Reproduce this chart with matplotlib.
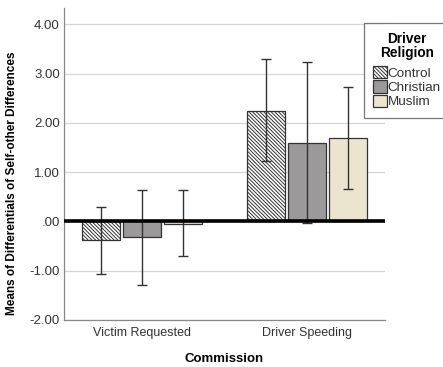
import matplotlib
matplotlib.use("Agg")
import matplotlib.pyplot as plt
import numpy as np

plt.rcParams['font.family'] = ['Liberation Sans', 'DejaVu Sans']
plt.rcParams['hatch.linewidth'] = 0.7
plt.rcParams['hatch.color'] = '#333333'

# data
categories = ["Victim Requested", "Driver Speeding"]
groups = ["Control", "Christian", "Muslim"]
means_control = [-0.38, 2.25]
means_christian = [-0.32, 1.59]
means_muslim = [-0.05, 1.70]
upper_control = [0.29, 3.29]
upper_christian = [0.63, 3.24]
upper_muslim = [0.63, 2.73]
lower_control = [-1.07, 1.22]
lower_christian = [-1.28, -0.03]
lower_muslim = [-0.71, 0.66]

colors = ["white", "#9b9999", "#ebe5cf"]
hatches = ["\\" * 9, None, None]

means = [means_control, means_christian, means_muslim]
uppers = [upper_control, upper_christian, upper_muslim]
lowers = [lower_control, lower_christian, lower_muslim]

fig = plt.figure(figsize=(4.43, 3.67), dpi=100)
ax = fig.add_axes([64/443, 1 - 320/367, (385-64)/443, (320-8)/367])

x = np.arange(len(categories))
width = 0.227
offsets = [-0.248, 0, 0.248]

for i in range(len(groups)):
    m = np.array(means[i])
    up = np.array(uppers[i]) - m
    lo = m - np.array(lowers[i])
    ax.bar(x + offsets[i], m, width, color=colors[i], edgecolor="#333333",
           linewidth=0.9, hatch=hatches[i], label=groups[i], zorder=2)
    ax.errorbar(x + offsets[i], m, yerr=[lo, up], fmt="none", ecolor="#333333",
                elinewidth=1.0, capsize=3.8, capthick=1.0, zorder=3)

ax.axhline(0, color="black", linewidth=2.6, zorder=4)

ax.set_xlim(-0.47, 1.47)
ax.set_ylim(-2, 4.33)
ticks = np.arange(-2, 5, 1)
ax.set_yticks(ticks)
ax.set_yticklabels([("%.2f" % v) if v != 0 else ".00" for v in ticks])
ax.set_xticks(x)
ax.set_xticklabels(categories)
ax.tick_params(axis="both", length=0, labelsize=9, colors="#333333", pad=5)
ax.tick_params(axis="y", labelsize=9.5, pad=3)

ax.yaxis.grid(True, color="#d6d6d6", linewidth=0.9, zorder=0)
ax.set_axisbelow(True)
for s in ["top", "right"]:
    ax.spines[s].set_visible(False)
for s in ["left", "bottom"]:
    ax.spines[s].set_color("#888888")
    ax.spines[s].set_linewidth(0.9)

ax.set_xlabel("Commission", fontsize=9.5, fontweight="bold", labelpad=10)
fig.text(12.5/443, 1 - 183/367, "Means of Differentials of Self-other Differences",
         rotation=90, ha="center", va="center", fontsize=8.5, fontweight="bold")

leg = ax.legend(title="Driver\nReligion", loc="upper left",
                bbox_to_anchor=(364/443, 1 - 23/367), bbox_transform=fig.transFigure,
                frameon=True, fancybox=False, edgecolor="#555555", fontsize=9.7,
                handlelength=1.0, handleheight=1.0, handletextpad=0.05,
                labelspacing=0.05, borderpad=0.7, borderaxespad=0,
                alignment="center")
title = leg.get_title()
title.set_fontweight("bold")
title.set_fontsize(9.8)
title.set_linespacing(0.95)
title.set_multialignment("center")
leg._legend_box.sep = 4.5
leg.get_frame().set_linewidth(0.9)
for t in leg.get_texts():
    t.set_color("#333333")

fig.savefig("out.png", dpi=100)
